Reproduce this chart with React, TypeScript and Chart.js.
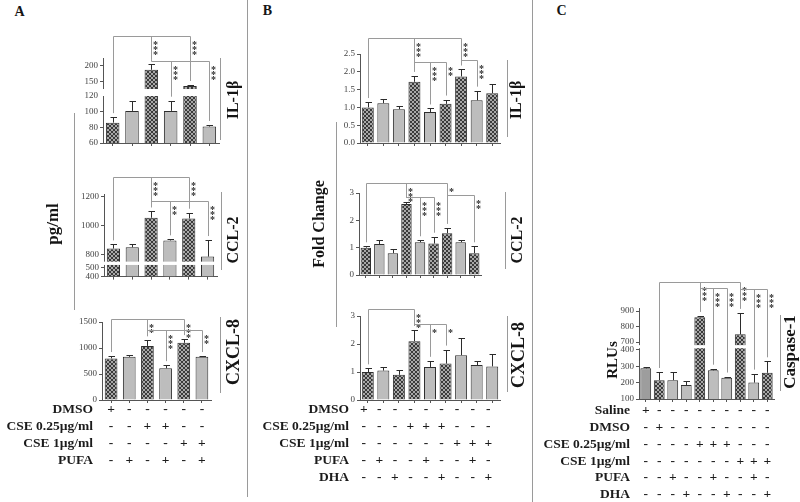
import React, { useEffect, useRef } from 'react';
import { Chart, registerables, LinearScale } from 'chart.js';

const SERIF = '"Liberation Serif", "Times New Roman", "DejaVu Serif", serif';

// ---------------- categories ----------------
const A_GROUPS = ['DMSO', 'PUFA', 'CSE 0.25µg/ml', 'CSE 0.25µg/ml + PUFA', 'CSE 1µg/ml', 'CSE 1µg/ml + PUFA'];
const B_GROUPS = ['DMSO', 'PUFA', 'DHA', 'CSE 0.25µg/ml', 'CSE 0.25µg/ml + PUFA', 'CSE 0.25µg/ml + DHA', 'CSE 1µg/ml', 'CSE 1µg/ml + PUFA', 'CSE 1µg/ml + DHA'];
const C_GROUPS = ['Saline', 'DMSO', 'PUFA', 'DHA', 'CSE 0.25µg/ml', 'CSE 0.25µg/ml + PUFA', 'CSE 0.25µg/ml + DHA', 'CSE 1µg/ml', 'CSE 1µg/ml + PUFA', 'CSE 1µg/ml + DHA'];

// ---------------- panel A (pg/ml) ----------------
const A_IL1B = [86, 101, 187, 101, 135, 81];
const A_IL1B_ERRTOP = [93, 114, 206, 114, 138, 83];
const A_IL1B_TICKS = [60, 80, 100, 120, 150, 200];

const A_CCL2 = [841, 850, 1055, 897, 1050, 785];
const A_CCL2_ERRTOP = [870, 870, 1100, 905, 1090, 900];
const A_CCL2_TICKS = [400, 500, 800, 1000, 1200];

const A_CXCL8 = [800, 830, 1040, 610, 1100, 830];
const A_CXCL8_ERRTOP = [845, 860, 1150, 670, 1170, 845];
const A_CXCL8_TICKS = [0, 500, 1000, 1500];

const A_ROWS = ['DMSO', 'CSE 0.25µg/ml', 'CSE 1µg/ml', 'PUFA'];
const A_SIGNS = ['+-----', '--++--', '----++', '-+-+-+'];

// ---------------- panel B (fold change) ----------------
const B_IL1B = [1.0, 1.12, 0.95, 1.72, 0.87, 1.1, 1.87, 1.2, 1.4];
const B_IL1B_ERRTOP = [1.15, 1.24, 1.04, 1.89, 0.97, 1.22, 2.07, 1.47, 1.65];
const B_IL1B_TICKS = [0, 0.5, 1, 1.5, 2, 2.5];

const B_CCL2 = [1.0, 1.13, 0.8, 2.6, 1.2, 1.15, 1.53, 1.2, 0.8];
const B_CCL2_ERRTOP = [1.05, 1.27, 0.95, 2.67, 1.27, 1.4, 1.73, 1.28, 1.05];
const B_CCL2_TICKS = [0, 1, 2, 3];

const B_CXCL8 = [1.0, 1.05, 0.9, 2.1, 1.18, 1.3, 1.6, 1.25, 1.2];
const B_CXCL8_ERRTOP = [1.13, 1.17, 1.08, 2.5, 1.4, 1.8, 2.2, 1.38, 1.63];
const B_CXCL8_TICKS = [0, 1, 2, 3];

const B_ROWS = ['DMSO', 'CSE 0.25µg/ml', 'CSE 1µg/ml', 'PUFA', 'DHA'];
const B_SIGNS = ['+--------', '---+++---', '------+++', '-+--+--+-', '--+--+--+'];

// ---------------- panel C (RLUs) ----------------
const C_CASP1 = [287, 215, 215, 185, 860, 275, 230, 750, 200, 260];
const C_CASP1_ERRTOP = [295, 265, 265, 210, 870, 285, 237, 890, 255, 330];
const C_CASP1_TICKS = [100, 200, 300, 400, 700, 800, 900];

const C_ROWS = ['Saline', 'DMSO', 'CSE 0.25µg/ml', 'CSE 1µg/ml', 'PUFA', 'DHA'];
const C_SIGNS = ['+---------', '-+--------', '----+++---', '-------+++', '--+--+--+-', '---+--+--+'];

// ---------------- chart specs (layout + annotations) ----------------
const SPECS: any[] = [
  {
    cats: A_GROUPS, values: A_IL1B, errs: A_IL1B_ERRTOP, ticks: A_IL1B_TICKS, decimals: 0,
    fill: 'hlhlhl', barPct: 0.7,
    box: { x: 70, y: 18, w: 177, h: 133 }, area: { l: 103, t: 58, r: 219, b: 143 },
    segments: [{ min: 60, max: 120, from: 0, to: 0.553 }, { min: 125, max: 225, from: 0.635, to: 1 }],
    brackets: [
      { from: 0, to: [2, 4], level: 296, stars: ['***', '***'] },
      { from: 2, to: [3, 5], level: 215, stars: ['***', '***'] },
    ],
  },
  {
    cats: A_GROUPS, values: A_CCL2, errs: A_CCL2_ERRTOP, ticks: A_CCL2_TICKS, decimals: 0,
    fill: 'hlhlhl', barPct: 0.7,
    box: { x: 70, y: 160, w: 177, h: 124 }, area: { l: 104, t: 194, r: 217, b: 277 },
    segments: [{ min: 400, max: 530, from: 0, to: 0.141 }, { min: 750, max: 1220, from: 0.181, to: 1 }],
    brackets: [
      { from: 0, to: [2, 4], level: 1338, stars: ['***', '***'] },
      { from: 2, to: [3, 5], level: 1172, stars: ['**', '***'] },
    ],
  },
  {
    cats: A_GROUPS, values: A_CXCL8, errs: A_CXCL8_ERRTOP, ticks: A_CXCL8_TICKS, decimals: 0,
    fill: 'hlhlhl', barPct: 0.7,
    box: { x: 0, y: 300, w: 247, h: 195 }, area: { l: 102, t: 322, r: 211, b: 400 },
    segments: [{ min: 0, max: 1500, from: 0, to: 1 }],
    brackets: [
      { from: 0, to: [2, 4], level: 1558, stars: ['**', '***'] },
      { from: 2, to: [3, 5], level: 1346, stars: ['***', '**'] },
    ],
    table: { rows: A_ROWS, signs: A_SIGNS, first: 10, gap: 16.7, labelGap: 9, shift: 0 },
  },
  {
    cats: B_GROUPS, values: B_IL1B, errs: B_IL1B_ERRTOP, ticks: B_IL1B_TICKS, decimals: 1,
    fill: 'hllhlhhlh', barPct: 0.77,
    box: { x: 325, y: 20, w: 200, h: 131 }, area: { l: 360, t: 54, r: 500, b: 143 },
    segments: [{ min: 0, max: 2.5, from: 0, to: 1 }],
    brackets: [
      { from: 0, to: [3, 6], level: 2.95, stars: ['***', '***'] },
      { from: 3, to: [4, 5], level: 2.275, stars: ['***', '**'] },
      { from: 6, to: [7], level: 2.33, stars: ['***'] },
    ],
  },
  {
    cats: B_GROUPS, values: B_CCL2, errs: B_CCL2_ERRTOP, ticks: B_CCL2_TICKS, decimals: 0,
    fill: 'hllhlhhlh', barPct: 0.77,
    box: { x: 325, y: 165, w: 200, h: 118 }, area: { l: 359, t: 193, r: 481, b: 275 },
    segments: [{ min: 0, max: 3, from: 0, to: 1 }],
    brackets: [
      { from: 0, to: [3, 6], level: 3.37, stars: ['***', '*'] },
      { from: 3, to: [4, 5], level: 2.85, stars: ['***', '***'] },
      { from: 6, to: [8], level: 2.92, stars: ['**'] },
    ],
  },
  {
    cats: B_GROUPS, values: B_CXCL8, errs: B_CXCL8_ERRTOP, ticks: B_CXCL8_TICKS, decimals: 0,
    fill: 'hlhhlhlll', barPct: 0.77,
    box: { x: 250, y: 290, w: 280, h: 210 }, area: { l: 360, t: 316, r: 500, b: 400 },
    segments: [{ min: 0, max: 3, from: 0, to: 1 }],
    brackets: [
      { from: 0, to: [3], level: 3.25, stars: ['***'] },
      { from: 3, to: [4, 5], level: 2.71, stars: ['*', '*'] },
    ],
    table: { rows: B_ROWS, signs: B_SIGNS, first: 10, gap: 17, labelGap: 11, shift: -4 },
  },
  {
    cats: C_GROUPS, values: C_CASP1, errs: C_CASP1_ERRTOP, ticks: C_CASP1_TICKS, decimals: 0,
    fill: 'mhllhllhlh', barPct: 0.8,
    box: { x: 532, y: 250, w: 268, h: 252 }, area: { l: 639, t: 308, r: 774, b: 399 },
    segments: [{ min: 100, max: 410, from: 0, to: 0.558 }, { min: 680, max: 920, from: 0.592, to: 1 }],
    brackets: [
      { from: 1, to: [4, 7], level: 1088, stars: ['***', '***'] },
      { from: 4, to: [5, 6], level: 1049, stars: ['***', '***'] },
      { from: 7, to: [8, 9], level: 1043, stars: ['***', '***'] },
    ],
    table: { rows: C_ROWS, signs: C_SIGNS, first: 12, gap: 16.7, labelGap: 9, shift: 0 },
  },
];

const SPEC_MAP = new Map<any, any>();

// Linear value axis that can be split into separate segments (broken axis)
class BrokenScale extends LinearScale {
  static id = 'broken';
  static defaults = LinearScale.defaults;
  buildTicks() {
    const s = SPEC_MAP.get(this.chart.canvas);
    return (s ? s.ticks : []).map((v: number) => ({ value: v }));
  }
  getPixelForValue(value: number) {
    const s = SPEC_MAP.get(this.chart.canvas);
    const segs = s.segments;
    const h = this.bottom - this.top;
    const frac = (g: any, v: number) => g.from + ((v - g.min) / (g.max - g.min)) * (g.to - g.from);
    let f: number;
    if (value <= segs[0].min) f = segs[0].from;
    else {
      f = frac(segs[segs.length - 1], value);
      for (let k = 0; k < segs.length; k++) {
        if (value <= segs[k].max) {
          f = value < segs[k].min ? segs[k].from : frac(segs[k], value);
          break;
        }
      }
    }
    return this.bottom - f * h;
  }
  getValueForPixel() {
    return this.min;
  }
}

Chart.register(...registerables, BrokenScale as any);

const overlayPlugin = {
  id: 'overlay',
  afterDatasetsDraw(chart: any) {
    const s = SPEC_MAP.get(chart.canvas);
    if (!s) return;
    const ctx = chart.ctx;
    const ys = chart.scales.y;
    const xs = chart.scales.x;
    const a = chart.chartArea;
    const meta = chart.getDatasetMeta(0);

    // error bars (upper whisker only)
    ctx.save();
    ctx.beginPath();
    ctx.rect(a.left, a.top - 1, a.right - a.left, a.bottom - a.top + 1);
    ctx.clip();
    ctx.strokeStyle = '#2b2b2b';
    ctx.lineWidth = 1;
    meta.data.forEach((el: any, i: number) => {
      const x = Math.round(el.x) + 0.5;
      const y0 = ys.getPixelForValue(s.values[i]);
      const y1 = Math.round(ys.getPixelForValue(s.errs[i])) + 0.5;
      ctx.beginPath();
      ctx.moveTo(x, y0);
      ctx.lineTo(x, y1);
      ctx.moveTo(x - 3, y1);
      ctx.lineTo(x + 3.5, y1);
      ctx.stroke();
    });
    ctx.restore();

    // axis breaks
    const segs = s.segments;
    for (let k = 1; k < segs.length; k++) {
      const yUp = ys.getPixelForValue(segs[k].min);
      const yLow = ys.getPixelForValue(segs[k - 1].max);
      ctx.fillStyle = '#ffffff';
      ctx.fillRect(a.left - 4, yUp, a.right - a.left + 6, yLow - yUp);
    }

    // significance brackets
    ctx.save();
    ctx.strokeStyle = '#9a9a9a';
    ctx.lineWidth = 1;
    ctx.fillStyle = '#333';
    ctx.font = `bold 10px ${SERIF}`;
    ctx.textAlign = 'center';
    ctx.textBaseline = 'top';
    const xOf = (i: number) => Math.round(xs.getPixelForValue(i)) + 0.5;
    const drop = (i: number) => ys.getPixelForValue(s.errs[i]) - 4;
    for (const br of s.brackets) {
      const y = Math.round(ys.getPixelForValue(br.level)) + 0.5;
      const all = [br.from, ...br.to];
      const xsAll = all.map(xOf);
      ctx.beginPath();
      ctx.moveTo(Math.min(...xsAll), y);
      ctx.lineTo(Math.max(...xsAll), y);
      all.forEach((i: number) => {
        ctx.moveTo(xOf(i), y);
        ctx.lineTo(xOf(i), drop(i));
      });
      ctx.stroke();
      br.to.forEach((t: number, k: number) => {
        const st = br.stars[k];
        for (let j = 0; j < st.length; j++) ctx.fillText('*', xOf(t) + 4, y + 4 + j * 5);
      });
    }
    ctx.restore();
  },
  afterDraw(chart: any) {
    const s = SPEC_MAP.get(chart.canvas);
    if (!s || !s.table) return;
    const ctx = chart.ctx;
    const xs = chart.scales.x;
    const a = chart.chartArea;
    const tb = s.table;
    ctx.save();
    ctx.fillStyle = '#1c1c1c';
    ctx.font = `bold 13.5px ${SERIF}`;
    ctx.textBaseline = 'middle';
    tb.rows.forEach((label: string, r: number) => {
      const y = a.bottom + tb.first + r * tb.gap;
      ctx.textAlign = 'right';
      ctx.fillText(label, a.left - tb.labelGap, y);
      ctx.textAlign = 'center';
      [...tb.signs[r]].forEach((c: string, i: number) => {
        ctx.fillText(c, xs.getPixelForValue(i) + tb.shift, y);
      });
    });
    ctx.restore();
  },
};

function makeHatch() {
  const c = document.createElement('canvas');
  c.width = 4;
  c.height = 4;
  const g = c.getContext('2d')!;
  g.fillStyle = '#a8a8a8';
  g.fillRect(0, 0, 4, 4);
  g.fillStyle = '#3a3a3a';
  for (let i = 0; i < 4; i++) {
    g.fillRect(i, i, 1, 1);
    g.fillRect(3 - i, i, 1, 1);
  }
  return g.createPattern(c, 'repeat');
}

function build(canvas: HTMLCanvasElement, s: any, hatch: any) {
  SPEC_MAP.set(canvas, s);
  const yW = 30;
  const xH = 5;
  const pad = {
    left: s.area.l - s.box.x - yW,
    top: s.area.t - s.box.y,
    right: s.box.x + s.box.w - s.area.r,
    bottom: s.box.y + s.box.h - s.area.b - xH,
  };
  const colors = [...s.fill].map((c: string) => (c === 'h' ? hatch : c === 'm' ? '#9d9d9d' : '#bdbdbd'));
  const segs = s.segments;
  return new Chart(canvas, {
    type: 'bar',
    data: {
      labels: s.cats,
      datasets: [
        {
          data: s.values,
          backgroundColor: colors,
          borderColor: '#2e2e2e',
          borderWidth: 1,
          barPercentage: s.barPct,
          categoryPercentage: 1,
          clip: 0,
        } as any,
      ],
    },
    options: {
      responsive: false,
      animation: false,
      events: [],
      layout: { padding: pad },
      plugins: { legend: { display: false }, tooltip: { enabled: false }, title: { display: false } },
      scales: {
        x: {
          type: 'category',
          offset: true,
          grid: { display: true, drawOnChartArea: false, drawTicks: true, tickLength: 3, color: '#555', offset: false },
          border: { display: true, color: '#555', width: 1 },
          ticks: { display: false },
          afterFit: (sc: any) => {
            sc.height = xH;
          },
        },
        y: {
          type: 'broken',
          position: 'left',
          min: segs[0].min,
          max: segs[segs.length - 1].max,
          grid: { drawOnChartArea: false, drawTicks: true, tickLength: 3, color: '#555' },
          border: { display: true, color: '#555', width: 1 },
          ticks: {
            autoSkip: false,
            font: { family: SERIF, size: 9 },
            color: '#444',
            padding: 2,
            callback: (v: any) => Number(v).toFixed(s.decimals),
          },
          afterFit: (sc: any) => {
            sc.width = yW;
          },
        } as any,
      },
    } as any,
    plugins: [overlayPlugin],
  });
}

const VLINES = [
  [247, 0, 497],
  [532, 0, 502],
  [74, 113, 310],
  [336, 122, 327],
  [220, 58, 140],
  [221, 192, 270],
  [220, 317, 393],
  [507, 60, 137],
  [505, 192, 269],
  [507, 316, 392],
  [780, 315, 391],
];

const VLABELS = [
  { t: 'pg/ml', x: 52, y: 224, s: 17 },
  { t: 'Fold Change', x: 319, y: 224, s: 16 },
  { t: 'RLUs', x: 612, y: 360, s: 15 },
  { t: 'IL-1β', x: 233, y: 100, s: 16 },
  { t: 'CCL-2', x: 233, y: 240, s: 16 },
  { t: 'CXCL-8', x: 233, y: 352, s: 18 },
  { t: 'IL-1β', x: 516, y: 100, s: 16 },
  { t: 'CCL-2', x: 517, y: 240, s: 16 },
  { t: 'CXCL-8', x: 518, y: 355, s: 18 },
  { t: 'Caspase-1', x: 789, y: 352, s: 17 },
];

const LETTERS = [
  { t: 'A', x: 19.5, y: 11.5 },
  { t: 'B', x: 267.5, y: 11 },
  { t: 'C', x: 561.5, y: 10.5 },
];

export default function App() {
  const refs = useRef<(HTMLCanvasElement | null)[]>([]);
  useEffect(() => {
    const hatch = makeHatch();
    const charts = SPECS.map((s, i) => build(refs.current[i]!, s, hatch));
    return () => {
      charts.forEach((c) => c.destroy());
      refs.current.forEach((c) => c && SPEC_MAP.delete(c));
    };
  }, []);

  return (
    <div style={{ position: 'absolute', left: 0, top: 0, width: 800, height: 502, background: '#fff', overflow: 'hidden' }}>
      {SPECS.map((s, i) => (
        <canvas
          key={i}
          ref={(el) => {
            refs.current[i] = el;
          }}
          width={s.box.w}
          height={s.box.h}
          style={{ position: 'absolute', left: s.box.x, top: s.box.y, width: s.box.w, height: s.box.h }}
        />
      ))}
      {VLINES.map(([x, y1, y2], i) => (
        <div key={'l' + i} style={{ position: 'absolute', left: x, top: y1, width: 1, height: y2 - y1, background: '#9a9a9a' }} />
      ))}
      {VLABELS.map((l, i) => (
        <div
          key={'v' + i}
          style={{
            position: 'absolute',
            left: l.x,
            top: l.y,
            transform: 'translate(-50%, -50%) rotate(-90deg)',
            whiteSpace: 'nowrap',
            font: `bold ${l.s}px ${SERIF}`,
            lineHeight: 1,
            color: '#151515',
          }}
        >
          {l.t}
        </div>
      ))}
      {LETTERS.map((l, i) => (
        <div
          key={'p' + i}
          style={{
            position: 'absolute',
            left: l.x,
            top: l.y,
            transform: 'translate(-50%, -50%)',
            font: `bold 14px ${SERIF}`,
            lineHeight: 1,
            color: '#151515',
          }}
        >
          {l.t}
        </div>
      ))}
    </div>
  );
}
